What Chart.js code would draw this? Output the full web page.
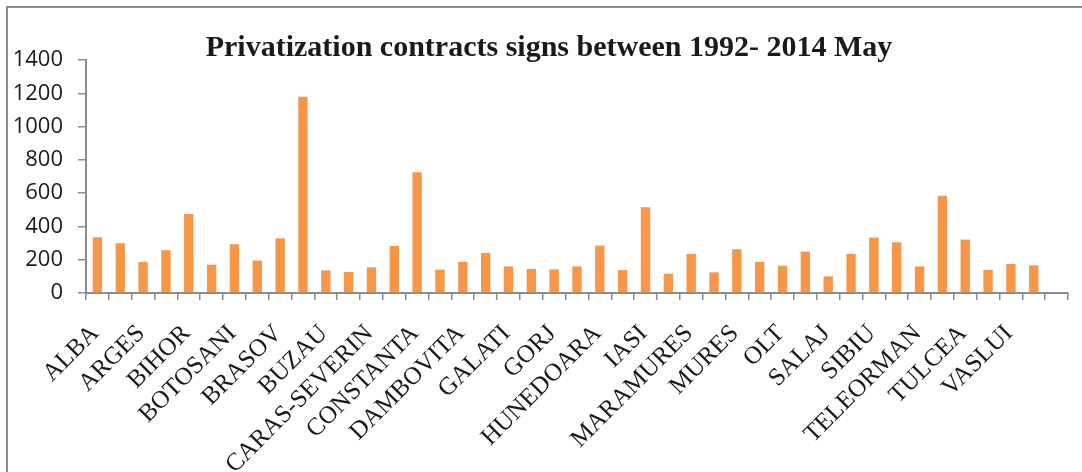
<!DOCTYPE html>
<html>
<head>
<meta charset="utf-8">
<script src="https://cdn.jsdelivr.net/npm/chart.js@4/dist/chart.umd.min.js"></script>
<style>
  html, body { margin: 0; padding: 0; background: #ffffff; }
  #wrap { width: 1082px; height: 472px; }
</style>
</head>
<body>
<div id="wrap"><canvas id="c" width="1082" height="472"></canvas></div>
<script>
// Romanian counties, alphabetical (trailing slot left blank)
const counties = [
  'ALBA', 'ARAD', 'ARGES', 'BACAU', 'BIHOR', 'BISTRITA-NASAUD', 'BOTOSANI',
  'BRAILA', 'BRASOV', 'BUCURESTI', 'BUZAU', 'CALARASI', 'CARAS-SEVERIN', 'CLUJ',
  'CONSTANTA', 'COVASNA', 'DAMBOVITA', 'DOLJ', 'GALATI', 'GIURGIU', 'GORJ',
  'HARGHITA', 'HUNEDOARA', 'IALOMITA', 'IASI', 'ILFOV', 'MARAMURES', 'MEHEDINTI',
  'MURES', 'NEAMT', 'OLT', 'PRAHOVA', 'SALAJ', 'SATU MARE', 'SIBIU', 'SUCEAVA',
  'TELEORMAN', 'TIMIS', 'TULCEA', 'VALCEA', 'VASLUI', 'VRANCEA', ''
];

// Privatization contracts signed per county, 1992 - May 2014
const contracts = [
  335, 299, 187, 257, 475, 170, 293,
  195, 329, 1179, 136, 126, 154, 283,
  726, 140, 187, 241, 160, 144, 142,
  160, 285, 138, 515, 116, 235, 124,
  263, 187, 164, 249, 100, 235, 333, 305,
  160, 584, 321, 138, 174, 166, null
];

const yTicks = [0, 200, 400, 600, 800, 1000, 1200, 1400];

const titleText = 'Privatization contracts signs between 1992- 2014 May';

const axisGray = '#8c8c8c';

// white page, thin frame on the top and left sides, and the heading
const framePlugin = {
  id: 'frame',
  beforeDraw(chart) {
    const ctx = chart.ctx;
    ctx.save();
    ctx.fillStyle = '#ffffff';
    ctx.fillRect(0, 0, chart.width, chart.height);
    ctx.strokeStyle = axisGray;
    ctx.lineWidth = 2;
    ctx.beginPath();
    ctx.moveTo(7, chart.height);
    ctx.lineTo(7, 7);
    ctx.lineTo(chart.width, 7);
    ctx.stroke();

    ctx.fillStyle = '#1a1a1a';
    ctx.font = 'bold 30px "Liberation Serif", "Times New Roman", serif';
    ctx.textAlign = 'center';
    ctx.textBaseline = 'alphabetic';
    ctx.fillText(titleText, 549, 56);
    ctx.restore();
  }
};

new Chart(document.getElementById('c'), {
  type: 'bar',
  data: {
    labels: counties,
    datasets: [{
      data: contracts,
      backgroundColor: '#F79646',
      borderWidth: 0,
      barPercentage: 0.41,
      categoryPercentage: 1.0
    }]
  },
  options: {
    responsive: false,
    animation: false,
    devicePixelRatio: 1,
    layout: { padding: { left: 8, right: 14, top: 60, bottom: 0 } },
    plugins: {
      legend: { display: false },
      tooltip: { enabled: false },
      title: { display: false }
    },
    scales: {
      x: {
        offset: true,
        grid: {
          offset: true,
          drawOnChartArea: false,
          drawTicks: true,
          tickLength: 7,
          color: axisGray,
          lineWidth: 1.5
        },
        border: { display: true, color: axisGray, width: 2 },
        ticks: {
          autoSkip: false,
          minRotation: 45,
          maxRotation: 45,
          padding: 19,
          labelOffset: -2,
          color: '#1a1a1a',
          font: { family: '"Liberation Serif", "Times New Roman", serif', size: 25 },
          callback: (v, i) => (i % 2 === 0 ? counties[i] : '')
        },
        afterFit(scale) {
          scale.height = 179;
          scale.paddingLeft = 0;
          scale.paddingRight = 0;
        }
      },
      y: {
        min: 0,
        max: 1400,
        afterBuildTicks(scale) { scale.ticks = yTicks.map(v => ({ value: v })); },
        grid: {
          drawOnChartArea: false,
          drawTicks: true,
          tickLength: 8,
          color: axisGray,
          lineWidth: 1.5
        },
        border: { display: true, color: axisGray, width: 2 },
        ticks: {
          padding: 15,
          color: '#1a1a1a',
          font: { family: '"Open Sans", "Liberation Sans", sans-serif', size: 22 },
          callback: v => String(v)
        },
        afterFit(scale) { scale.width = 78; }
      }
    }
  },
  plugins: [framePlugin]
});
</script>
</body>
</html>
